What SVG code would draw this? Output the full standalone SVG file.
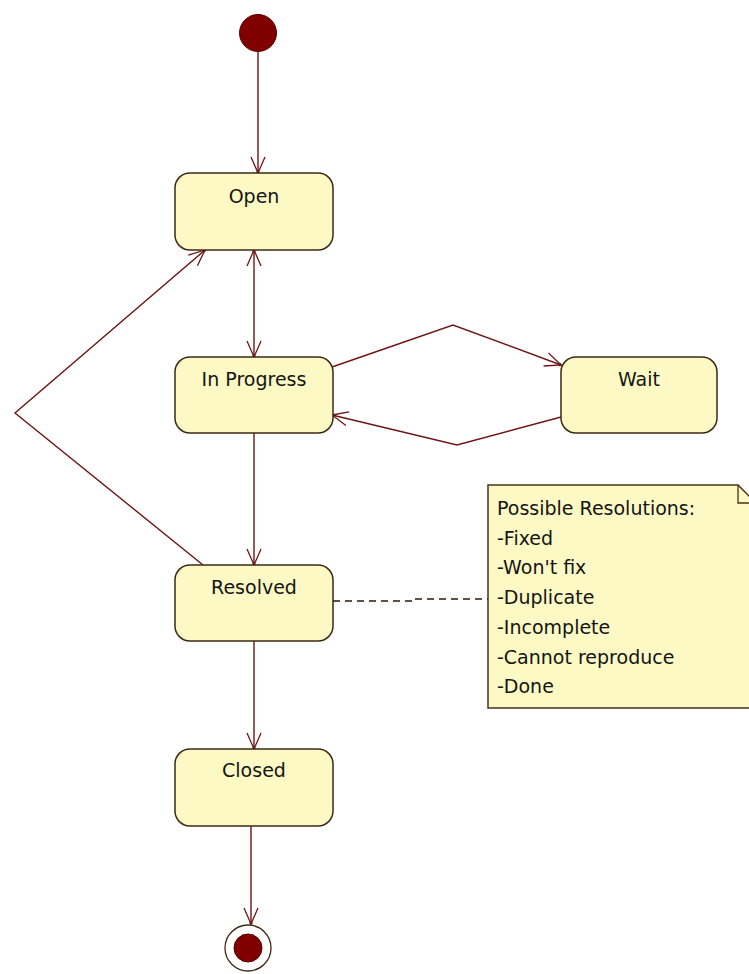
<svg xmlns="http://www.w3.org/2000/svg" width="749" height="974" viewBox="0 0 749 974">
<style>
.node rect{fill:#fdf9c4;stroke:#3b2a14;stroke-width:1.5}
.lbl{font-family:"DejaVu Sans",Verdana,sans-serif;font-size:19px;fill:#141414;text-anchor:middle}
.note{font-family:"DejaVu Sans",Verdana,sans-serif;font-size:19px;fill:#141414}
.edge{fill:none;stroke:#6e1414;stroke-width:1.4}
.dash{fill:none;stroke:#2a1a0a;stroke-width:1.4;stroke-dasharray:7 5}
</style>
<defs>
<marker id="arr" viewBox="-17 -9 19 18" refX="0" refY="0" markerWidth="19" markerHeight="18" markerUnits="userSpaceOnUse" orient="auto-start-reverse">
<path d="M-16,-7 L0,0 L-16,7" fill="none" stroke="#6e1414" stroke-width="1.3"/>
<circle cx="-1" cy="0" r="1.6" fill="#6e1414"/>
</marker>
</defs>
<rect width="749" height="974" fill="#ffffff"/>
<g id="connectors">
<line class="edge" x1="258" y1="51" x2="258" y2="173" marker-end="url(#arr)"/>
<line class="edge" x1="254" y1="250" x2="254" y2="357" marker-start="url(#arr)" marker-end="url(#arr)"/>
<polyline class="edge" points="332,367 453,325 561,365" marker-end="url(#arr)"/>
<polyline class="edge" points="561,417 457,445 332,415" marker-end="url(#arr)"/>
<line class="edge" x1="254" y1="433" x2="254" y2="565" marker-end="url(#arr)"/>
<polyline class="edge" points="203,565 15,413 205,250" marker-end="url(#arr)"/>
<line class="edge" x1="254" y1="641" x2="254" y2="749" marker-end="url(#arr)"/>
<line class="edge" x1="251" y1="826" x2="251" y2="924" marker-end="url(#arr)"/>
<polyline class="dash" points="333,601 413,601 413,599 488,599"/>
</g>
<g id="initial">
<circle cx="258" cy="33" r="18.5" fill="#800000" stroke="#5a0000" stroke-width="1"/>
</g>
<g id="open" class="node">
<rect x="175" y="173" width="158" height="77" rx="15"/>
<text class="lbl" x="254" y="203">Open</text>
</g>
<g id="inprogress" class="node">
<rect x="175" y="357" width="158" height="76" rx="15"/>
<text class="lbl" x="254" y="386">In Progress</text>
</g>
<g id="wait" class="node">
<rect x="561" y="357" width="156" height="76" rx="15"/>
<text class="lbl" x="639" y="386">Wait</text>
</g>
<g id="resolved" class="node">
<rect x="175" y="565" width="158" height="76" rx="15"/>
<text class="lbl" x="254" y="594">Resolved</text>
</g>
<g id="closed" class="node">
<rect x="175" y="749" width="158" height="77" rx="15"/>
<text class="lbl" x="254" y="777">Closed</text>
</g>
<g id="final">
<circle cx="248" cy="948" r="23" fill="#ffffff" stroke="#3b2a14" stroke-width="1.3"/>
<circle cx="248" cy="948" r="14" fill="#800000" stroke="#5a0000" stroke-width="1"/>
</g>
<g id="note">
<path d="M488,485 L738,485 L756,503 L756,708 L488,708 Z" fill="#fdf9c4" stroke="#4a3018" stroke-width="1.5"/>
<path d="M738,485 L738,503 L756,503" fill="none" stroke="#4a3018" stroke-width="1.3"/>
<text class="note" x="497" y="515">Possible Resolutions:</text>
<text class="note" x="497" y="545">-Fixed</text>
<text class="note" x="497" y="574">-Won't fix</text>
<text class="note" x="497" y="604">-Duplicate</text>
<text class="note" x="497" y="634">-Incomplete</text>
<text class="note" x="497" y="664">-Cannot reproduce</text>
<text class="note" x="497" y="693">-Done</text>
</g>
</svg>
